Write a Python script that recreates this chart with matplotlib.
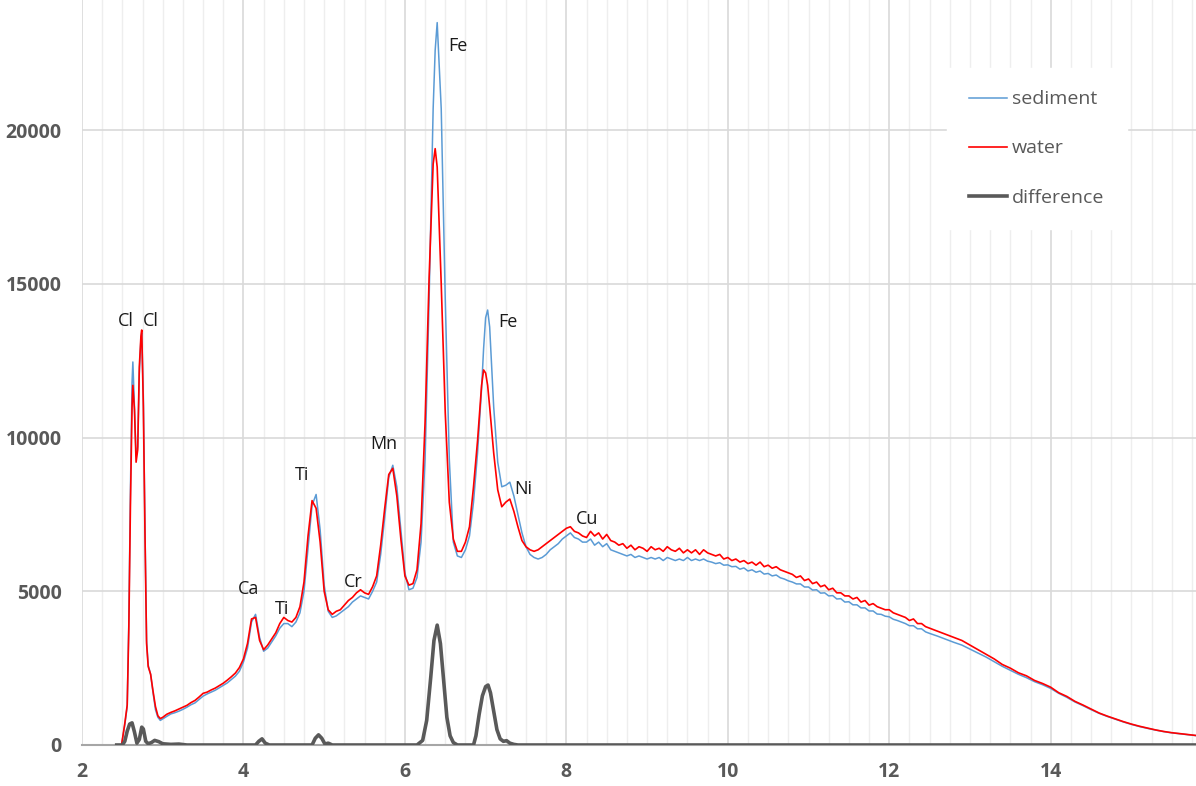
import matplotlib
matplotlib.use("Agg")
import matplotlib.pyplot as plt
from matplotlib.ticker import MultipleLocator

# ---------------- data ----------------
energy_keV = [
    2.49, 2.53, 2.56, 2.58, 2.60, 2.62, 2.63, 2.65, 2.67, 2.69, 2.71, 2.73, 2.74, 2.76, 2.78, 2.80,
    2.82, 2.85, 2.88, 2.91, 2.94, 2.97,
    3.00, 3.05, 3.10, 3.15, 3.20, 3.25, 3.30, 3.35, 3.40, 3.45, 3.50, 3.55, 3.60, 3.65, 3.70, 3.75,
    3.80, 3.85, 3.90, 3.95,
    4.00, 4.05, 4.10, 4.15, 4.20, 4.25, 4.30, 4.35, 4.40, 4.45, 4.50, 4.55, 4.60, 4.65, 4.70, 4.75,
    4.80, 4.85, 4.90, 4.95, 5.00, 5.05, 5.10, 5.15, 5.20, 5.25, 5.30, 5.35, 5.40, 5.45, 5.50, 5.55,
    5.60, 5.65, 5.70, 5.75, 5.80, 5.85, 5.90, 5.95, 6.00, 6.05, 6.10, 6.15, 6.20, 6.25, 6.30, 6.35,
    6.375, 6.40, 6.45, 6.50, 6.55, 6.60, 6.65, 6.70, 6.75, 6.80, 6.85, 6.90, 6.95, 6.975, 7.00, 7.025,
    7.05, 7.10, 7.15, 7.20, 7.25, 7.30, 7.35, 7.40, 7.45, 7.50, 7.55, 7.60, 7.65, 7.70, 7.75, 7.80,
    7.85, 7.90, 7.95, 8.00, 8.05, 8.10, 8.15, 8.20,
    8.25, 8.30, 8.35, 8.40, 8.45, 8.50, 8.55, 8.60, 8.65, 8.70, 8.75, 8.80, 8.85, 8.90, 8.95, 9.00,
    9.05, 9.10, 9.15, 9.20, 9.25, 9.30, 9.35, 9.40, 9.45, 9.50, 9.55, 9.60, 9.65, 9.70, 9.75, 9.80,
    9.85, 9.90, 9.95, 10.00, 10.05, 10.10, 10.15, 10.20, 10.25, 10.30, 10.35, 10.40, 10.45, 10.50,
    10.55, 10.60, 10.65, 10.70, 10.75, 10.80, 10.85, 10.90, 10.95, 11.00, 11.05, 11.10, 11.15, 11.20,
    11.25, 11.30, 11.35, 11.40, 11.45, 11.50, 11.55, 11.60, 11.65, 11.70, 11.75, 11.80, 11.85, 11.90,
    11.95, 12.00, 12.05, 12.10, 12.15, 12.20, 12.25, 12.30, 12.35, 12.40, 12.45, 12.50,
    12.6, 12.7, 12.8, 12.9, 13.0, 13.1, 13.2, 13.3, 13.4, 13.5, 13.6, 13.7, 13.8, 13.9, 14.0, 14.1,
    14.2, 14.3, 14.4, 14.5, 14.6, 14.7, 14.8, 14.9, 15.0, 15.1, 15.2, 15.3, 15.4, 15.5, 15.6, 15.7, 15.8,
]

water = [
    0, 700, 1300, 3800, 7800, 11000, 11700, 10900, 9200, 9600, 12300, 13300, 13500, 11000, 6900, 3300,
    2550, 2300, 1750, 1250, 950, 860,
    900, 1000, 1060, 1110, 1170, 1230, 1290, 1380, 1450, 1560, 1680, 1720, 1790, 1850, 1930, 2010,
    2110, 2220, 2340, 2520,
    2800, 3300, 4100, 4150, 3400, 3100, 3250, 3450, 3650, 3950, 4150, 4050, 4000, 4150, 4500, 5300,
    6800, 7950, 7700, 6600, 5000, 4400, 4250, 4350, 4400, 4550, 4700, 4800, 4950, 5050, 4950, 4900,
    5150, 5500, 6500, 7700, 8800, 9000, 8100, 6700, 5500, 5200, 5250, 5700, 7200, 10500, 15200, 18900,
    19400, 18800, 15000, 10800, 7900, 6700, 6300, 6300, 6600, 7100, 8400, 9900, 11700, 12200, 12100, 11700,
    11000, 9500, 8300, 7750, 7900, 8000, 7600, 7100, 6650, 6450, 6350, 6300, 6350, 6450, 6550, 6650,
    6750, 6850, 6950, 7050, 7100, 6950, 6900, 6800,
    6750, 6950, 6800, 6900, 6700, 6850, 6650, 6600, 6500, 6550, 6400, 6500, 6350, 6450, 6400, 6300,
    6450, 6350, 6400, 6300, 6450, 6350, 6300, 6400, 6250, 6350, 6250, 6350, 6200, 6350, 6250, 6200,
    6150, 6200, 6050, 6100, 6000, 6050, 5950, 6000, 5900, 5950, 5850, 5950, 5800, 5850,
    5750, 5800, 5700, 5650, 5600, 5550, 5450, 5500, 5350, 5400, 5250, 5300, 5150, 5200,
    5050, 5100, 4950, 4950, 4850, 4850, 4750, 4800, 4650, 4700, 4550, 4600, 4500, 4450,
    4400, 4400, 4300, 4250, 4200, 4150, 4050, 4100, 3950, 3950, 3850, 3800,
    3700, 3600, 3500, 3400, 3250, 3100, 2950, 2800, 2620, 2500, 2350, 2250, 2100, 2000, 1880, 1700,
    1580, 1420, 1300, 1170, 1040, 940, 850, 760, 680, 610, 550, 490, 440, 400, 370, 340, 310,
]

sediment = [
    0, 650, 1250, 4000, 8300, 11800, 12460, 11000, 9400, 9700, 12100, 13200, 13400, 11300, 7100, 3400,
    2600, 2300, 1700, 1150, 900, 800,
    850, 930, 1010, 1050, 1100, 1160, 1230, 1310, 1370, 1480, 1590, 1660, 1720, 1780, 1860, 1940,
    2020, 2130, 2240, 2400,
    2700, 3150, 4000, 4250, 3500, 3050, 3150, 3350, 3550, 3800, 3950, 3950, 3850, 4000, 4300, 5000,
    6400, 7800, 8150, 7000, 5200, 4350, 4150, 4200, 4300, 4400, 4500, 4650, 4750, 4850, 4800, 4750,
    5000, 5300, 6200, 7400, 8700, 9100, 8400, 7000, 5600, 5050, 5100, 5450, 6600, 9300, 14500, 20700,
    22600, 23500, 20700, 14500, 9300, 6600, 6150, 6100, 6350, 6800, 7900, 9500, 11600, 12900, 13900, 14150,
    13600, 11000, 9200, 8400, 8450, 8550, 8100, 7500, 6900, 6450, 6200, 6100, 6050, 6100, 6200, 6350,
    6450, 6550, 6700, 6800, 6900, 6750, 6700, 6600,
    6600, 6700, 6500, 6600, 6450, 6550, 6350, 6300, 6250, 6200, 6150, 6200, 6100, 6150, 6100, 6050,
    6100, 6050, 6100, 6000, 6100, 6050, 6000, 6050, 6000, 6100, 6000, 6050, 6000, 6050, 5980, 5950,
    5900, 5930, 5850, 5860, 5800, 5810, 5720, 5760, 5660, 5700, 5620, 5660, 5560, 5580,
    5500, 5530, 5440, 5400, 5340, 5300, 5240, 5240, 5140, 5140, 5040, 5050, 4940, 4950,
    4850, 4860, 4750, 4760, 4650, 4660, 4560, 4560, 4460, 4460, 4360, 4360, 4260, 4250,
    4190, 4170, 4090, 4050, 4000, 3950, 3880, 3880, 3780, 3780, 3680, 3630,
    3540, 3440, 3340, 3250, 3120, 2990, 2860, 2710, 2560, 2430, 2300, 2190, 2060, 1960, 1840, 1680,
    1550, 1400, 1280, 1150, 1030, 930, 840, 750, 670, 600, 540, 485, 435, 395, 365, 335, 305,
]

diff_energy = [
    2.43, 2.50, 2.53, 2.56, 2.59, 2.62, 2.65, 2.68, 2.71, 2.74, 2.76, 2.79, 2.82, 2.86, 2.90, 2.95,
    3.00, 3.10, 3.20, 3.30, 4.15, 4.19, 4.23, 4.27, 4.32, 4.85, 4.89, 4.93, 4.97, 5.01, 5.05, 5.10,
    6.15, 6.22, 6.27, 6.32, 6.36, 6.40, 6.44, 6.48, 6.52, 6.56, 6.60, 6.65, 6.85, 6.88, 6.92, 6.96,
    7.00, 7.03, 7.06, 7.10, 7.14, 7.18, 7.22, 7.26, 7.30, 7.35, 7.40, 15.8,
]
difference = [
    0, 0, 120, 450, 680, 720, 420, 60, 180, 580, 520, 120, 40, 80, 150, 110,
    40, 20, 30, 0, 0, 120, 200, 60, 0, 0, 220, 330, 220, 30, 60, 0,
    0, 150, 800, 2200, 3400, 3900, 3300, 2100, 900, 300, 80, 0, 0, 300, 1000, 1600,
    1900, 1950, 1700, 1100, 500, 200, 120, 140, 60, 20, 0, 0,
]

peak_labels = ["Cl", "Cl", "Ca", "Ti", "Ti", "Cr", "Mn", "Fe", "Fe", "Ni", "Cu"]
label_x = [2.54, 2.85, 4.06, 4.48, 4.72, 5.36, 5.74, 6.66, 7.28, 7.46, 8.26]
label_y = [13800, 13800, 5080, 4420, 8780, 5300, 9790, 22750, 13770, 8330, 7350]

x_ticks = [2, 4, 6, 8, 10, 12, 14]
y_ticks = [0, 5000, 10000, 15000, 20000]

# ---------------- figure ----------------
W, H = 1196, 786
fig = plt.figure(figsize=(W / 100, H / 100), dpi=100)
ax = fig.add_axes([82 / W, 1 - 745 / H, (W - 82) / W, 745 / H])

ax.set_xlim(2, 15.8)
ax.set_ylim(0, 24235)

ax.xaxis.set_minor_locator(MultipleLocator(0.25))
ax.set_xticks(x_ticks)
ax.set_yticks(y_ticks)
ax.grid(which="major", axis="both", color="#d9d9d9", linewidth=1.2)
ax.grid(which="minor", axis="x", color="#eeeeee", linewidth=1.0)
ax.set_axisbelow(True)

for s in ["top", "right", "left"]:
    ax.spines[s].set_visible(False)
ax.spines["bottom"].set_color("#a6a6a6")
ax.spines["bottom"].set_linewidth(1.5)

ax.tick_params(axis="both", which="both", length=0)
ax.tick_params(axis="y", pad=14.5)
ax.tick_params(axis="x", pad=12)
for lab in ax.get_xticklabels() + ax.get_yticklabels():
    lab.set_fontfamily("Open Sans")
    lab.set_fontweight("bold")
    lab.set_fontsize(14)
    lab.set_color("#595959")

ax.plot(energy_keV, sediment, color="#5b9bd5", linewidth=1.1, label="sediment", zorder=3)
ax.plot(energy_keV, water, color="#ff0000", linewidth=1.2, label="water", zorder=4)
ax.plot(diff_energy, difference, color="#595959", linewidth=2.6, label="difference", zorder=5,
        solid_joinstyle="round")

for t, xv, yv in zip(peak_labels, label_x, label_y):
    ax.text(xv, yv, t, ha="center", va="center", fontsize=13, family="Open Sans",
            color="#1a1a1a", zorder=6)

leg = ax.legend(loc="upper left", bbox_to_anchor=((947 - 82) / (W - 82), 1 - 68 / 745),
                frameon=True, fancybox=False, framealpha=1, edgecolor="white", facecolor="white",
                prop={"family": "Open Sans", "size": 14}, handlelength=1.95, labelspacing=1.6,
                handletextpad=0.25, borderpad=1.15, borderaxespad=0)
for txt in leg.get_texts():
    txt.set_color("#595959")
leg.set_zorder(10)

fig.savefig("out.png", dpi=100)
